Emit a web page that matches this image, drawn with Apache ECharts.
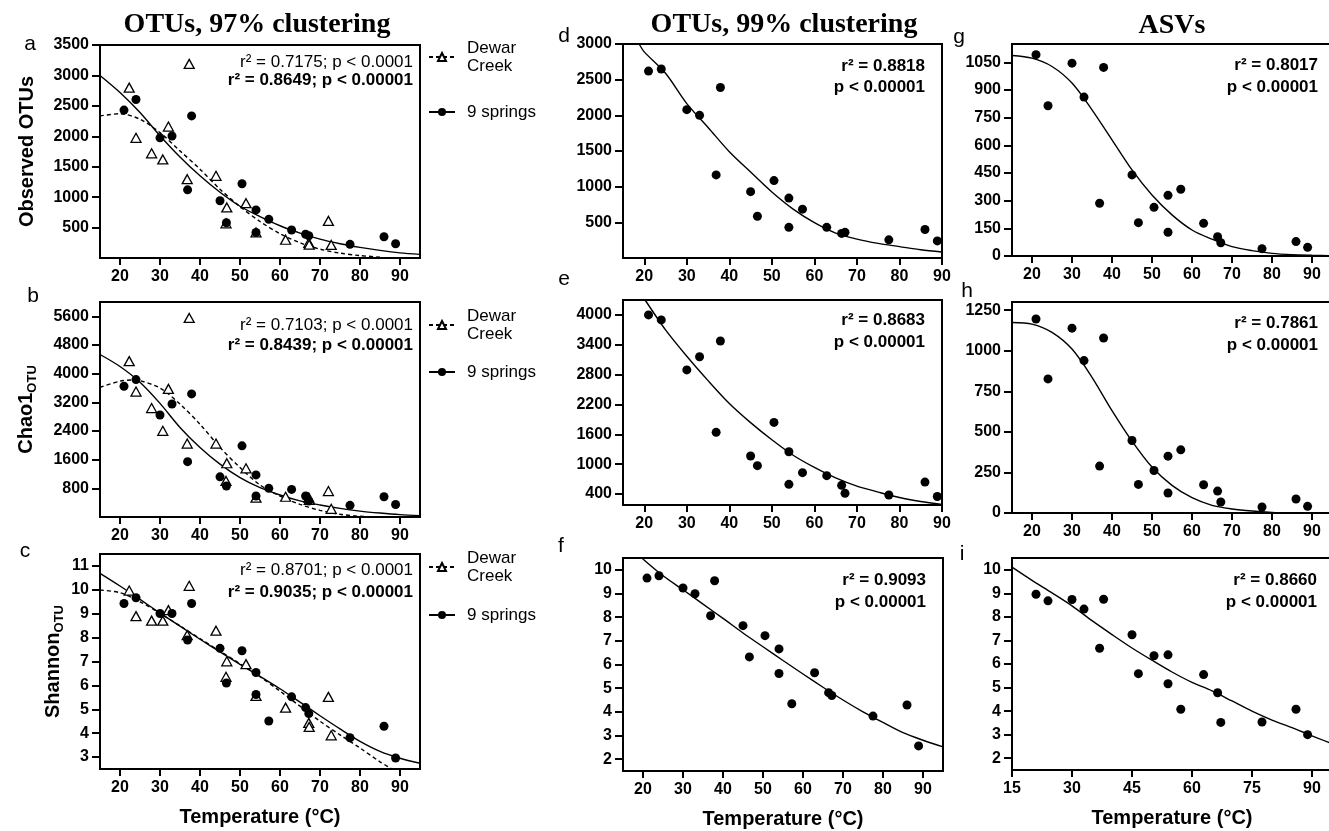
<!DOCTYPE html>
<html lang="en">
<head>
<meta charset="utf-8">
<title>Diversity vs temperature</title>
<script src="https://cdn.jsdelivr.net/npm/echarts@6.0.0/dist/echarts.min.js"></script>
<style>
    html, body { margin: 0; padding: 0; background: #fff; }
    #chart { width: 1329px; height: 831px; }
</style>
</head>
<body>
<div id="chart"></div>
<script>
// sample temperatures (°C)
var springTemp = [21.0, 24.0, 30.0, 33.0, 36.9, 37.9, 45.0, 46.6, 50.5, 54.0, 54.0, 57.2, 62.9, 66.4, 67.2, 77.5, 86.0, 88.9];
var dewarTemp = [22.3, 24.0, 27.9, 30.7, 32.1, 36.8, 37.3, 44.0, 46.5, 46.7, 51.5, 54.0, 61.4, 67.2, 67.3, 72.1, 72.8];

// OTUs, 97% clustering
var springObs97 = [2430, 2605, 1975, 2005, 1120, 2335, 940, 580, 1220, 790, 420, 635, 460, 390, 365, 225, 350, 235];
var dewarObs97 = [2800, 1975, 1720, 1620, 2160, 1295, 3190, 1350, 570, 830, 900, 420, 300, 250, 220, 610, 215];
var springChao97 = [3650, 3835, 2845, 3155, 1545, 3435, 1120, 865, 1985, 1175, 585, 800, 770, 585, 445, 325, 565, 350];
var dewarChao97 = [4350, 3500, 3040, 2405, 3575, 2050, 5555, 2050, 1005, 1500, 1360, 540, 565, 540, 480, 725, 230];
var springShan97 = [9.43, 9.67, 9.01, 9.01, 7.90, 9.43, 7.55, 6.10, 7.45, 6.54, 5.62, 4.51, 5.52, 5.07, 4.82, 3.81, 4.29, 2.96];
var dewarShan97 = [9.97, 8.90, 8.71, 8.71, 9.15, 8.10, 10.17, 8.29, 6.36, 7.01, 6.89, 5.56, 5.07, 4.43, 4.26, 5.52, 3.91];

// OTUs, 99% clustering
var springObs99 = [2620, 2650, 2080, 2000, 1165, 2390, 930, 585, 1085, 840, 430, 685, 430, 345, 360, 255, 400, 240];
var springChao99 = [4000, 3900, 2895, 3160, 1640, 3475, 1165, 970, 1840, 1250, 595, 830, 770, 575, 415, 380, 640, 350];
var springShan99 = [9.65, 9.75, 9.23, 8.99, 8.06, 9.54, 7.64, 6.32, 7.22, 6.66, 5.62, 4.34, 5.65, 4.81, 4.69, 3.82, 4.29, 2.56];

// ASVs
var springObsASV = [1092, 815, 1046, 862, 286, 1023, 440, 181, 264, 329, 129, 362, 177, 105, 72, 40, 78, 47];
var springChaoASV = [1195, 826, 1139, 939, 289, 1078, 447, 176, 262, 350, 123, 389, 174, 135, 68, 37, 86, 41];
var springShanASV = [8.96, 8.68, 8.74, 8.33, 6.67, 8.75, 7.24, 5.59, 6.35, 6.39, 5.16, 4.08, 5.55, 4.78, 3.52, 3.54, 4.08, 3.00];

// fitted curves
var fitStep = [15, 20, 25, 30, 35, 40, 45, 50, 55, 60, 65, 70, 75, 80, 85, 90, 95];
var fitA_spring = [3000, 2720, 2390, 2010, 1660, 1350, 1080, 850, 680, 530, 410, 310, 235, 175, 125, 85, 60];
var fitA_dewarT = [15, 20, 25, 30, 35, 40, 45, 50, 55, 60, 65, 70, 75, 80, 85];
var fitA_dewar = [2335, 2370, 2280, 2060, 1760, 1460, 1130, 845, 600, 400, 250, 145, 80, 40, 15];
var fitB_spring = [4535, 4200, 3760, 3170, 2500, 1940, 1475, 1100, 820, 615, 450, 335, 240, 165, 110, 65, 35];
var fitB_dewarT = [15, 20, 23.3, 25, 30, 35, 40, 45, 50, 55, 60, 65, 70, 75, 80, 85];
var fitB_dewar = [3620, 3790, 3825, 3805, 3600, 3150, 2590, 1940, 1380, 895, 585, 350, 185, 75, 20, 0];
var fitC_spring = [10.69, 10.16, 9.60, 9.03, 8.48, 7.93, 7.40, 6.88, 6.38, 5.86, 5.30, 4.73, 4.18, 3.66, 3.24, 2.95, 2.74];
var fitC_dewarT = [15, 20, 25, 30, 35, 40, 45, 50, 55, 60, 65, 70, 75, 80, 85, 88];
var fitC_dewar = [9.99, 9.88, 9.50, 9.02, 8.49, 7.96, 7.43, 6.91, 6.36, 5.76, 5.13, 4.50, 3.93, 3.38, 2.80, 2.50];
var fitD_T = [18.8, 20, 25, 30, 35, 40, 45, 50, 55, 60, 65, 70, 75, 80, 85, 90];
var fitD = [3000, 2890, 2590, 2165, 1830, 1490, 1205, 925, 685, 495, 350, 265, 205, 160, 115, 85];
var fitE_T = [20.2, 25, 30, 35, 40, 45, 50, 55, 60, 65, 70, 75, 80, 85, 90];
var fitE = [4300, 3700, 3170, 2680, 2220, 1835, 1490, 1180, 935, 725, 560, 440, 330, 250, 190];
var fitF_T = [19.9, 25, 30, 35, 40, 45, 50, 55, 60, 65, 70, 75, 80, 85, 90, 95];
var fitF = [10.47, 9.75, 9.16, 8.55, 7.95, 7.33, 6.75, 6.17, 5.60, 5.04, 4.50, 4.00, 3.55, 3.12, 2.80, 2.52];
var fitG = [1088, 1073, 1028, 938, 793, 630, 467, 331, 223, 141, 91, 51, 29, 14, 7, 4, 2];
var fitH = [1174, 1164, 1113, 1010, 836, 631, 443, 283, 170, 94, 47, 25, 12, 4, 1, 0, 0];
var fitI = [10.11, 9.55, 9.02, 8.47, 7.84, 7.25, 6.68, 6.16, 5.66, 5.22, 4.86, 4.43, 4.00, 3.62, 3.30, 2.95, 2.62];

// axis ranges and tick labels
var xTicks = [20, 30, 40, 50, 60, 70, 80, 90];
var xTicksI = [15, 30, 45, 60, 75, 90];
var yTicksA = [500, 1000, 1500, 2000, 2500, 3000, 3500];
var yTicksB = [800, 1600, 2400, 3200, 4000, 4800, 5600];
var yTicksC = [3, 4, 5, 6, 7, 8, 9, 10, 11];
var yTicksD = [500, 1000, 1500, 2000, 2500, 3000];
var yTicksE = [400, 1000, 1600, 2200, 2800, 3400, 4000];
var yTicksF = [2, 3, 4, 5, 6, 7, 8, 9, 10];
var yTicksG = [0, 150, 300, 450, 600, 750, 900, 1050];
var yTicksH = [0, 250, 500, 750, 1000, 1250];

var SANS = 'Liberation Sans';

// panel frames [left, top, width, height]
var frames = [
    [100, 45, 320, 213], [100, 302, 320, 215], [100, 554, 320, 215],
    [623, 44, 319, 214], [623, 300, 319, 205], [623, 558, 320, 213],
    [1012, 44, 320, 212], [1012, 302, 320, 211], [1012, 558, 320, 212]
];

function pts(xs, ys) {
    return xs.map(function (x, i) { return [x, ys[i]]; });
}

var grids = frames.map(function (f) {
    return {
        left: f[0], top: f[1], width: f[2], height: f[3],
        show: true, borderColor: '#000', borderWidth: 2,
        backgroundColor: 'transparent',
        outerBoundsMode: 'none', containLabel: false
    };
});

function xAxis(i, min, max, ticks, withName) {
    var ax = {
        type: 'value', gridIndex: i, min: min, max: max,
        splitLine: {show: false},
        axisLine: {show: true, onZero: false, lineStyle: {color: '#000', width: 2}},
        axisTick: {show: true, length: 7, customValues: ticks, lineStyle: {color: '#000', width: 2}},
        axisLabel: {
            customValues: ticks, margin: 11, color: '#000',
            fontFamily: SANS, fontWeight: 'bold', fontSize: 16,
            formatter: function (v) { return String(v); }
        }
    };
    if (withName) {
        ax.name = 'Temperature (°C)';
        ax.nameLocation = 'middle';
        ax.nameGap = 38;
        ax.nameMoveOverlap = false;
        ax.nameTextStyle = {color: '#000', fontFamily: SANS, fontWeight: 'bold', fontSize: 20};
    }
    return ax;
}

function yAxis(i, min, max, ticks, name, gap) {
    var ax = {
        type: 'value', gridIndex: i, min: min, max: max,
        splitLine: {show: false},
        axisLine: {show: true, onZero: false, lineStyle: {color: '#000', width: 2}},
        axisTick: {show: true, length: 8, customValues: ticks, lineStyle: {color: '#000', width: 2}},
        axisLabel: {
            customValues: ticks, margin: 11, color: '#000',
            fontFamily: SANS, fontWeight: 'bold', fontSize: 16,
            formatter: function (v) { return String(v); }
        }
    };
    if (name) {
        ax.name = name;
        ax.nameLocation = 'middle';
        ax.nameGap = gap;
        ax.nameMoveOverlap = false;
        ax.nameTextStyle = {
            color: '#000', fontFamily: SANS, fontWeight: 'bold', fontSize: 20,
            rich: {s: {fontFamily: SANS, fontWeight: 'bold', fontSize: 13, color: '#000', padding: [12, 0, 0, 0]}}
        };
    }
    return ax;
}

var xAxes = [
    xAxis(0, 15, 95, xTicks, false), xAxis(1, 15, 95, xTicks, false), xAxis(2, 15, 95, xTicks, true),
    xAxis(3, 15, 90, xTicks, false), xAxis(4, 15, 90, xTicks, false), xAxis(5, 15, 95, xTicks, true),
    xAxis(6, 15, 95, xTicks, false), xAxis(7, 15, 95, xTicks, false), xAxis(8, 15, 95, xTicksI, true)
];
var yAxes = [
    yAxis(0, 0, 3500, yTicksA, 'Observed OTUs', 63),
    yAxis(1, 0, 6000, yTicksB, 'Chao1{s|OTU}', 61),
    yAxis(2, 2.5, 11.5, yTicksC, 'Shannon{s|OTU}', 34),
    yAxis(3, 0, 3000, yTicksD), yAxis(4, 180, 4300, yTicksE), yAxis(5, 1.5, 10.5, yTicksF),
    yAxis(6, 0, 1150, yTicksG), yAxis(7, 0, 1300, yTicksH), yAxis(8, 1.5, 10.5, yTicksF)
];

function springDots(i, ys) {
    return {
        name: '9 springs data', type: 'scatter', xAxisIndex: i, yAxisIndex: i,
        data: pts(springTemp, ys), symbol: 'circle', symbolSize: 9,
        itemStyle: {color: '#000', opacity: 1}, z: 4, silent: true
    };
}
function dewarDots(i, ys) {
    return {
        name: 'Dewar Creek data', type: 'scatter', xAxisIndex: i, yAxisIndex: i,
        data: pts(dewarTemp, ys), symbol: 'triangle', symbolSize: [10, 9],
        itemStyle: {color: '#fff', borderColor: '#000', borderWidth: 1.3, opacity: 1}, z: 3, silent: true
    };
}
function fitLine(i, xs, ys, dashed) {
    return {
        name: dashed ? 'Dewar Creek' : '9 springs', type: 'line', xAxisIndex: i, yAxisIndex: i,
        data: pts(xs, ys), smooth: 0.3, showSymbol: false,
        symbol: dashed ? 'triangle' : 'circle',
        lineStyle: {color: '#000', width: 1.4, type: dashed ? [4, 3] : 'solid'},
        itemStyle: dashed ? {color: '#fff', borderColor: '#000', borderWidth: 1} : {color: '#000'},
        z: 2, silent: true
    };
}

var series = [
    fitLine(0, fitA_dewarT, fitA_dewar, true), fitLine(0, fitStep, fitA_spring, false),
    dewarDots(0, dewarObs97), springDots(0, springObs97),
    fitLine(1, fitB_dewarT, fitB_dewar, true), fitLine(1, fitStep, fitB_spring, false),
    dewarDots(1, dewarChao97), springDots(1, springChao97),
    fitLine(2, fitC_dewarT, fitC_dewar, true), fitLine(2, fitStep, fitC_spring, false),
    dewarDots(2, dewarShan97), springDots(2, springShan97),
    fitLine(3, fitD_T, fitD, false), springDots(3, springObs99),
    fitLine(4, fitE_T, fitE, false), springDots(4, springChao99),
    fitLine(5, fitF_T, fitF, false), springDots(5, springShan99),
    fitLine(6, fitStep, fitG, false), springDots(6, springObsASV),
    fitLine(7, fitStep, fitH, false), springDots(7, springChaoASV),
    fitLine(8, fitStep, fitI, false), springDots(8, springShanASV)
];

function legendAt(top, gap) {
    return {
        orient: 'vertical', left: 428, top: top, padding: 0, itemGap: gap,
        itemWidth: 26, itemHeight: 10, selectedMode: false,
        textStyle: {color: '#000', fontFamily: SANS, fontSize: 17, lineHeight: 18},
        formatter: function (n) { return n === 'Dewar Creek' ? 'Dewar\nCreek' : n; },
        data: [
            {name: 'Dewar Creek', textStyle: {padding: [18, 0, 0, 7]}},
            {name: '9 springs', textStyle: {padding: [0, 0, 0, 7]}}
        ]
    };
}

function label(x, y, t, opts) {
    opts = opts || {};
    return {
        type: 'text', x: x, y: y, silent: true,
        style: {
            text: t, fill: '#000',
            fontFamily: opts.family || SANS,
            fontSize: opts.size || 17,
            fontWeight: opts.weight || 'normal',
            align: opts.align || 'center', verticalAlign: 'middle'
        }
    };
}

var B = {weight: 'bold', align: 'right'};
var N = {align: 'right'};
var graphics = [
    label(257, 25, 'OTUs, 97% clustering', {family: 'Liberation Serif', size: 28, weight: 'bold'}),
    label(784, 25, 'OTUs, 99% clustering', {family: 'Liberation Serif', size: 28, weight: 'bold'}),
    label(1172, 26, 'ASVs', {family: 'Liberation Serif', size: 28, weight: 'bold'}),
    label(30, 44, 'a', {size: 21}), label(33, 296, 'b', {size: 21}), label(25, 551, 'c', {size: 21}),
    label(564, 36, 'd', {size: 21}), label(564, 279, 'e', {size: 21}), label(561, 546, 'f', {size: 21}),
    label(959, 37, 'g', {size: 21}), label(967, 291, 'h', {size: 21}), label(962, 554, 'i', {size: 21}),
    label(413, 62, 'r² = 0.7175; p < 0.0001', N), label(413, 80, 'r² = 0.8649; p < 0.00001', B),
    label(413, 325, 'r² = 0.7103; p < 0.0001', N), label(413, 345, 'r² = 0.8439; p < 0.00001', B),
    label(413, 570, 'r² = 0.8701; p < 0.0001', N), label(413, 592, 'r² = 0.9035; p < 0.00001', B),
    label(925, 66, 'r² = 0.8818', B), label(925, 87, 'p < 0.00001', B),
    label(925, 320, 'r² = 0.8683', B), label(925, 342, 'p < 0.00001', B),
    label(926, 580, 'r² = 0.9093', B), label(926, 602, 'p < 0.00001', B),
    label(1318, 65, 'r² = 0.8017', B), label(1318, 87, 'p < 0.00001', B),
    label(1318, 323, 'r² = 0.7861', B), label(1318, 345, 'p < 0.00001', B),
    label(1317, 580, 'r² = 0.8660', B), label(1317, 602, 'p < 0.00001', B)
];

var chart = echarts.init(document.getElementById('chart'), null, {renderer: 'canvas'});
chart.setOption({
    animation: false,
    backgroundColor: '#fff',
    grid: grids,
    xAxis: xAxes,
    yAxis: yAxes,
    legend: [legendAt(30, 19), legendAt(298, 11), legendAt(540, 12)],
    series: series,
    graphic: graphics
});
</script>
</body>
</html>
